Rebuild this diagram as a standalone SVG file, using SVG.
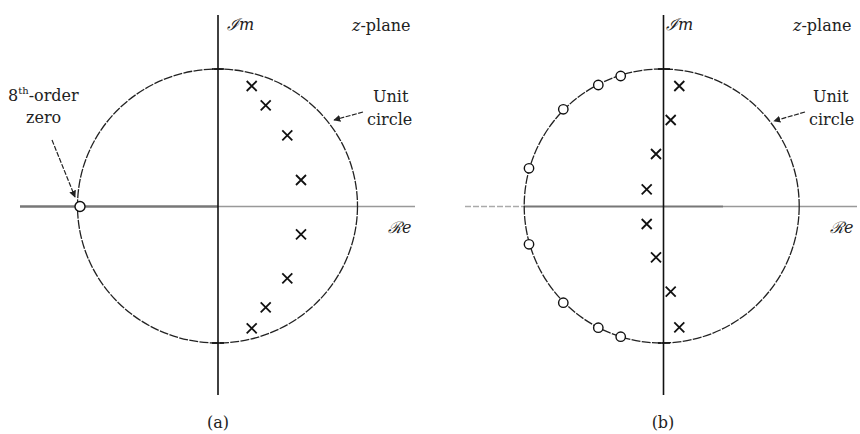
<svg xmlns="http://www.w3.org/2000/svg" width="860" height="434" viewBox="0 0 860 434">
<defs>
<style>
.lbl{font-family:"DejaVu Serif","Liberation Serif",serif;font-size:16px;fill:#222}
.scr{font-family:"DejaVu Serif","Liberation Serif",serif;font-size:16px;font-style:italic;fill:#222}
.axis{stroke:#111;stroke-width:1.6;fill:none}
.uc{fill:none;stroke:#222;stroke-width:1.3;stroke-dasharray:9 1.3}
.pole{stroke:#111;stroke-width:1.8;fill:none}
.zero{fill:#fff;stroke:#111;stroke-width:1.4}
.arr{stroke:#222;stroke-width:1.2;fill:none;stroke-dasharray:5 1.5;marker-end:url(#ah)}
</style>
<marker id="ah" viewBox="0 0 10 10" refX="9" refY="5" markerWidth="7" markerHeight="7" orient="auto" markerUnits="userSpaceOnUse">
<path d="M0,0 L10,5 L0,10 z" fill="#222"/>
</marker>
<path id="x" d="M-5,-5 L5,5 M-5,5 L5,-5"/>
</defs>

<!-- Diagram (a) -->
<g id="plane-a">
<line x1="20" y1="206.5" x2="218" y2="206.5" stroke="#777" stroke-width="2.6"/>
<line x1="218" y1="206.5" x2="415" y2="206.5" stroke="#999" stroke-width="1.3"/>
<line class="axis" x1="218" y1="15" x2="218" y2="395"/>
<ellipse class="uc" cx="217.5" cy="206" rx="140" ry="137"/>
<line x1="212" y1="69" x2="224" y2="69" stroke="#111" stroke-width="1.6"/>
<line x1="212" y1="343" x2="224" y2="343" stroke="#111" stroke-width="1.6"/>
</g>
<g id="zero-a"><circle class="zero" cx="80" cy="206.5" r="5"/></g>
<g id="poles-a" class="pole">
<use href="#x" x="251.7" y="86"/>
<use href="#x" x="265.7" y="105.3"/>
<use href="#x" x="287.3" y="135.3"/>
<use href="#x" x="301" y="180"/>
<use href="#x" x="301" y="234.3"/>
<use href="#x" x="287.3" y="278.3"/>
<use href="#x" x="265.7" y="307.3"/>
<use href="#x" x="251.7" y="328.3"/>
</g>
<g id="labels-a">
<text class="scr" x="227" y="30">ℐm</text>
<text class="lbl" x="352" y="31"><tspan font-style="italic">z</tspan>-plane</text>
<text class="lbl" x="8" y="101">8<tspan font-size="10" dy="-7">th</tspan><tspan dy="7">-order</tspan></text>
<text class="lbl" x="26" y="123">zero</text>
<text class="lbl" x="373" y="102">Unit</text>
<text class="lbl" x="367" y="125">circle</text>
<text class="scr" x="388" y="233">ℛe</text>
<text class="lbl" x="218" y="428" text-anchor="middle">(a)</text>
</g>

<!-- Diagram (b) -->
<g id="plane-b">
<line x1="465" y1="206.5" x2="524" y2="206.5" stroke="#aaa" stroke-width="1.3" stroke-dasharray="6 2"/>
<line x1="524" y1="206.5" x2="723" y2="206.5" stroke="#777" stroke-width="2.2"/>
<line x1="723" y1="206.5" x2="857" y2="206.5" stroke="#999" stroke-width="1.3"/>
<line class="axis" x1="663.5" y1="15" x2="663.5" y2="395"/>
<ellipse class="uc" cx="661.7" cy="206" rx="137.5" ry="137"/>
<line x1="658" y1="69" x2="670" y2="69" stroke="#111" stroke-width="1.6"/>
<line x1="658" y1="343" x2="670" y2="343" stroke="#111" stroke-width="1.6"/>
</g>
<g id="zeros-b">
<circle class="zero" cx="620.7" cy="76" r="4.7"/>
<circle class="zero" cx="598.3" cy="85" r="4.7"/>
<circle class="zero" cx="563.3" cy="109.3" r="4.7"/>
<circle class="zero" cx="529" cy="168.3" r="4.7"/>
<circle class="zero" cx="529" cy="244.3" r="4.7"/>
<circle class="zero" cx="563.3" cy="302.7" r="4.7"/>
<circle class="zero" cx="598.3" cy="327.7" r="4.7"/>
<circle class="zero" cx="620.7" cy="336.7" r="4.7"/>
</g>
<g id="poles-b" class="pole">
<use href="#x" x="679.3" y="86"/>
<use href="#x" x="670.7" y="120"/>
<use href="#x" x="656" y="154"/>
<use href="#x" x="646.7" y="189.3"/>
<use href="#x" x="646.7" y="224"/>
<use href="#x" x="656" y="257.3"/>
<use href="#x" x="670.7" y="291.7"/>
<use href="#x" x="679.3" y="327.3"/>
</g>
<g id="labels-b">
<text class="scr" x="666" y="30">ℐm</text>
<text class="lbl" x="793" y="31"><tspan font-style="italic">z</tspan>-plane</text>
<text class="lbl" x="813" y="102">Unit</text>
<text class="lbl" x="809" y="125">circle</text>
<text class="scr" x="830" y="233">ℛe</text>
<text class="lbl" x="663" y="428" text-anchor="middle">(b)</text>
</g>

<g id="connectors">
<line class="arr" x1="52" y1="140" x2="75" y2="197"/>
<line class="arr" x1="363" y1="112" x2="334" y2="120"/>
<line class="arr" x1="805" y1="112" x2="774" y2="121"/>
</g>
</svg>
